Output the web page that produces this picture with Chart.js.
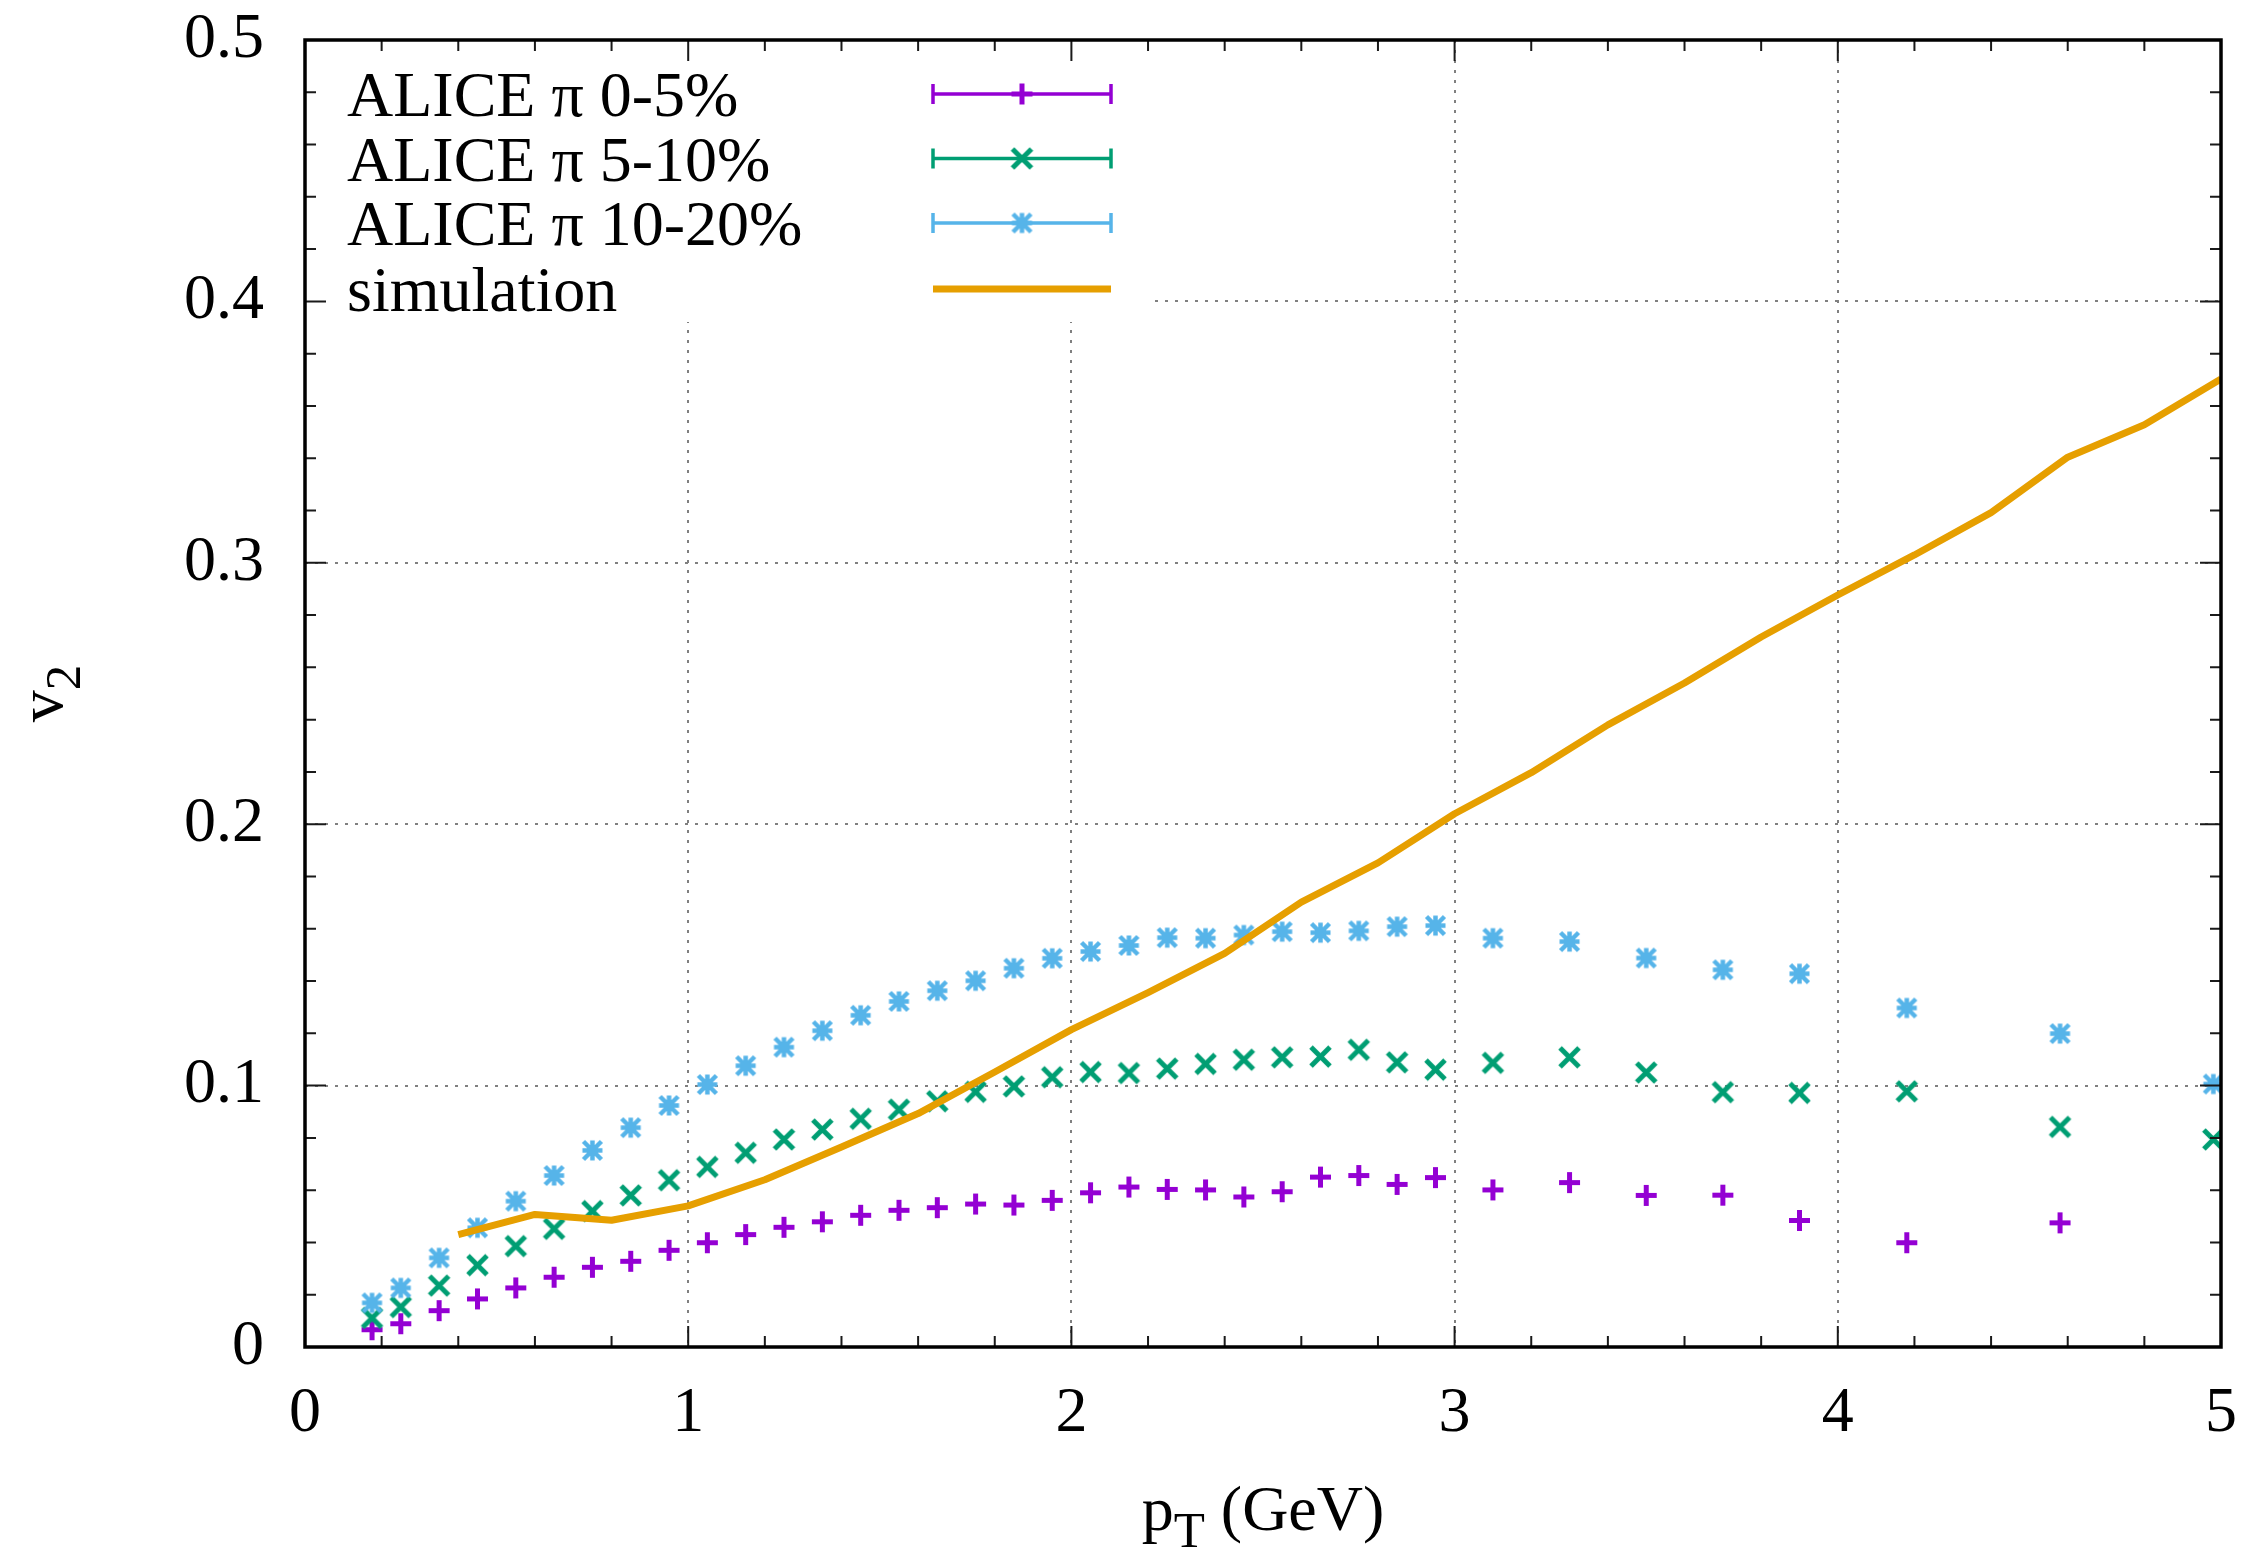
<!DOCTYPE html>
<html>
<head>
<meta charset="utf-8">
<script src="https://cdn.jsdelivr.net/npm/chart.js@4.4.1/dist/chart.umd.min.js"></script>
<style>
  html, body { margin: 0; padding: 0; background: #ffffff; }
  canvas { display: block; }
</style>
</head>
<body>
<canvas id="v2chart" width="2247" height="1552"></canvas>
<script>
// ---- data -------------------------------------------------------------
const xTickLabels = ['0', '1', '2', '3', '4', '5'];
const yTickLabels = ['0', '0.1', '0.2', '0.3', '0.4', '0.5'];
const seriesNames = ['ALICE \u03c0 0-5%', 'ALICE \u03c0 5-10%', 'ALICE \u03c0 10-20%', 'simulation'];

// pT bin centres of the measured points (GeV)
const ptAlice = [0.175, 0.25, 0.35, 0.45, 0.55, 0.65, 0.75, 0.85, 0.95, 1.05,
                 1.15, 1.25, 1.35, 1.45, 1.55, 1.65, 1.75, 1.85, 1.95, 2.05,
                 2.15, 2.25, 2.35, 2.45, 2.55, 2.65, 2.75, 2.85, 2.95, 3.1,
                 3.3, 3.5, 3.7, 3.9, 4.18, 4.58, 4.98];

// v2, 0-5% centrality (no point in the last bin)
const v2Cent0to5 = [0.0066, 0.0089, 0.0139, 0.0184, 0.0226, 0.0267, 0.0305, 0.0328, 0.0370, 0.0399,
                    0.0430, 0.0458, 0.0479, 0.0504, 0.0523, 0.0533, 0.0547, 0.0543, 0.0561, 0.0590,
                    0.0612, 0.0603, 0.0601, 0.0574, 0.0594, 0.0650, 0.0656, 0.0622, 0.0648, 0.0601,
                    0.0629, 0.0580, 0.0581, 0.0484, 0.0399, 0.0475];

// v2, 5-10% centrality
const v2Cent5to10 = [0.0111, 0.0153, 0.0235, 0.0313, 0.0386, 0.0452, 0.0520, 0.0580, 0.0638, 0.0689,
                     0.0743, 0.0794, 0.0832, 0.0873, 0.0908, 0.0940, 0.0976, 0.0997, 0.1032, 0.1052,
                     0.1048, 0.1065, 0.1083, 0.1099, 0.1108, 0.1111, 0.1137, 0.1089, 0.1061, 0.1087,
                     0.1108, 0.1050, 0.0975, 0.0972, 0.0978, 0.0842, 0.0794];

// v2, 10-20% centrality
const v2Cent10to20 = [0.0169, 0.0226, 0.0341, 0.0456, 0.0558, 0.0656, 0.0752, 0.0839, 0.0924, 0.1004,
                      0.1076, 0.1147, 0.1210, 0.1269, 0.1322, 0.1363, 0.1401, 0.1449, 0.1487, 0.1513,
                      0.1536, 0.1566, 0.1564, 0.1576, 0.1589, 0.1585, 0.1592, 0.1608, 0.1612, 0.1564,
                      0.1551, 0.1488, 0.1443, 0.1428, 0.1297, 0.1199, 0.1006];

// simulation curve
const ptSim = [0.4, 0.6, 0.8, 1.0, 1.2, 1.4, 1.6, 1.8, 2.0, 2.2, 2.4, 2.6,
               2.8, 3.0, 3.2, 3.4, 3.6, 3.8, 4.0, 4.2, 4.4, 4.6, 4.8, 5.0];
const v2Sim = [0.0430, 0.0507, 0.0485, 0.0540, 0.0640, 0.0765, 0.0893, 0.1052, 0.1214, 0.1356, 0.1506, 0.1702,
               0.1852, 0.2040, 0.2197, 0.2380, 0.2540, 0.2716, 0.2877, 0.3030, 0.3192, 0.3404, 0.3528, 0.3703];

// ---- styling ----------------------------------------------------------
const SERIF = '"Liberation Serif", "DejaVu Serif", "Times New Roman", serif';
const FONT_PX = 64;
const SUB_PX = 51;
const colPurple = '#9400d3';
const colGreen = '#009e73';
const colBlue = '#56b4e9';
const colOrange = '#e69f00';

// gnuplot-like point symbols rendered into small canvases
function symbolPath(ctx, kind, cx, cy) {
  ctx.beginPath();
  if (kind === 'plus' || kind === 'star') {
    const s = kind === 'plus' ? 10.5 : 10;
    ctx.moveTo(cx - s, cy); ctx.lineTo(cx + s, cy);
    ctx.moveTo(cx, cy - s); ctx.lineTo(cx, cy + s);
  }
  if (kind === 'cross' || kind === 'star') {
    const s = kind === 'cross' ? 9.5 : 9;
    ctx.moveTo(cx - s, cy - s); ctx.lineTo(cx + s, cy + s);
    ctx.moveTo(cx - s, cy + s); ctx.lineTo(cx + s, cy - s);
  }
}
function symbolCanvas(kind, color, lw) {
  const c = document.createElement('canvas');
  c.width = 31; c.height = 31;
  const g = c.getContext('2d');
  g.strokeStyle = color;
  g.lineWidth = lw;
  g.lineCap = 'butt';
  symbolPath(g, kind, 15.5, 15.5);
  g.stroke();
  return c;
}
const symPlus = symbolCanvas('plus', colPurple, 5);
const symCross = symbolCanvas('cross', colGreen, 5);
const symStar = symbolCanvas('star', colBlue, 4.5);

function pairs(xs, ys) {
  return ys.map((y, i) => ({ x: xs[i], y: y }));
}

// ---- frame, tics, key and axis titles --------------------------------
const framePlugin = {
  id: 'gnuplotFrame',
  beforeDatasetsDraw(chart) {
    const ctx = chart.ctx;
    const a = chart.chartArea;
    ctx.save();
    // opaque key box
    ctx.fillStyle = '#ffffff';
    ctx.fillRect(a.left, a.top, 843, 282);

    const entryY = [a.top + 54, a.top + 118.5, a.top + 183, a.top + 249];
    const textX = a.left + 42;
    const lineX0 = a.left + 628;
    const lineX1 = a.left + 806;
    const midX = (lineX0 + lineX1) / 2;
    ctx.font = FONT_PX + 'px ' + SERIF;
    ctx.textAlign = 'left';
    ctx.textBaseline = 'alphabetic';
    const cols = [colPurple, colGreen, colBlue, colOrange];
    const syms = [symPlus, symCross, symStar, null];
    for (let i = 0; i < 4; i++) {
      const y = entryY[i];
      ctx.fillStyle = '#000000';
      ctx.fillText(seriesNames[i], textX, y + 22);
      ctx.strokeStyle = cols[i];
      if (syms[i]) {
        ctx.lineWidth = 3.5;
        ctx.beginPath();
        ctx.moveTo(lineX0, y); ctx.lineTo(lineX1, y);
        ctx.moveTo(lineX0, y - 10); ctx.lineTo(lineX0, y + 10);
        ctx.moveTo(lineX1, y - 10); ctx.lineTo(lineX1, y + 10);
        ctx.stroke();
        ctx.drawImage(syms[i], midX - 15.5, y - 15.5);
      } else {
        ctx.lineWidth = 7;
        ctx.beginPath();
        ctx.moveTo(lineX0, y); ctx.lineTo(lineX1, y);
        ctx.stroke();
      }
    }
    ctx.restore();
  },
  afterDatasetsDraw(chart) {
    const ctx = chart.ctx;
    const a = chart.chartArea;
    const xs = chart.scales.x;
    const ys = chart.scales.y;
    ctx.save();
    ctx.strokeStyle = '#1a1a1a';
    ctx.lineWidth = 2;
    ctx.beginPath();
    for (let k = 1; k < 25; k++) {
      const px = xs.getPixelForValue(k * 0.2);
      const len = (k % 5 === 0) ? 21 : 11;
      ctx.moveTo(px, a.bottom); ctx.lineTo(px, a.bottom - len);
      ctx.moveTo(px, a.top); ctx.lineTo(px, a.top + len);
    }
    for (let k = 1; k < 25; k++) {
      const py = ys.getPixelForValue(k * 0.02);
      const len = (k % 5 === 0) ? 21 : 11;
      ctx.moveTo(a.left, py); ctx.lineTo(a.left + len, py);
      ctx.moveTo(a.right, py); ctx.lineTo(a.right - len, py);
    }
    ctx.stroke();
    ctx.strokeStyle = '#000000';
    ctx.lineWidth = 3.5;
    ctx.strokeRect(a.left, a.top, a.right - a.left, a.bottom - a.top);
    ctx.restore();
  },
  afterDraw(chart) {
    const ctx = chart.ctx;
    const a = chart.chartArea;
    ctx.save();
    ctx.fillStyle = '#000000';
    ctx.textBaseline = 'alphabetic';
    ctx.textAlign = 'left';
    // x title: p_T (GeV)
    const big = FONT_PX + 'px ' + SERIF;
    const small = SUB_PX + 'px ' + SERIF;
    ctx.font = big;
    const wP = ctx.measureText('p').width;
    const wRest = ctx.measureText(' (GeV)').width;
    ctx.font = small;
    const wT = ctx.measureText('T').width;
    const total = wP + wT + wRest;
    let x = (a.left + a.right) / 2 - total / 2;
    const base = 1530;
    ctx.font = big; ctx.fillText('p', x, base); x += wP;
    ctx.font = small; ctx.fillText('T', x, base + 17); x += wT;
    ctx.font = big; ctx.fillText(' (GeV)', x, base);

    // y title: v_2, rotated
    ctx.translate(62, (a.top + a.bottom) / 2);
    ctx.rotate(-Math.PI / 2);
    ctx.font = big;
    const wv = ctx.measureText('v').width;
    ctx.font = small;
    const w2 = ctx.measureText('2').width;
    let lx = -(wv + w2) / 2;
    ctx.font = big; ctx.fillText('v', lx, 0); lx += wv;
    ctx.font = small; ctx.fillText('2', lx, 18);
    ctx.restore();
  }
};

const gridColour = (max) => (c) => {
  const v = c.tick ? c.tick.value : 0;
  return (v <= 1e-9 || v >= max - 1e-9) ? 'rgba(0,0,0,0)' : '#808080';
};

new Chart(document.getElementById('v2chart'), {
  type: 'scatter',
  data: {
    datasets: [
      {
        label: seriesNames[3], data: pairs(ptSim, v2Sim), showLine: true,
        borderColor: colOrange, borderWidth: 7, pointRadius: 0, tension: 0,
        borderJoinStyle: 'round', fill: false, order: 0
      },
      {
        label: seriesNames[2], data: pairs(ptAlice, v2Cent10to20), showLine: false,
        pointStyle: symStar, pointRadius: 10, order: 1
      },
      {
        label: seriesNames[1], data: pairs(ptAlice, v2Cent5to10), showLine: false,
        pointStyle: symCross, pointRadius: 10, order: 2
      },
      {
        label: seriesNames[0], data: pairs(ptAlice, v2Cent0to5), showLine: false,
        pointStyle: symPlus, pointRadius: 10, order: 3
      }
    ]
  },
  options: {
    responsive: false,
    animation: false,
    devicePixelRatio: 1,
    layout: { padding: { left: 0, top: 40, right: 26, bottom: 0 } },
    plugins: { legend: { display: false }, tooltip: { enabled: false }, title: { display: false } },
    scales: {
      x: {
        type: 'linear', position: 'bottom', min: 0, max: 5,
        ticks: {
          stepSize: 1, padding: 29, color: '#000000',
          font: { family: SERIF, size: FONT_PX, lineHeight: 1.2 },
          maxRotation: 0, autoSkip: false,
          callback: (v) => xTickLabels[Math.round(v)]
        },
        grid: { drawTicks: false, lineWidth: 2, color: gridColour(5) },
        border: { display: false, dash: [3, 7] },
        afterFit: (s) => { s.height = 205; s.paddingLeft = 0; s.paddingRight = 0; }
      },
      y: {
        type: 'linear', position: 'left', min: 0, max: 0.5,
        ticks: {
          stepSize: 0.1, padding: 41, color: '#000000',
          font: { family: SERIF, size: FONT_PX, lineHeight: 1.2 },
          autoSkip: false,
          callback: (v) => yTickLabels[Math.round(v * 10)]
        },
        grid: { drawTicks: false, lineWidth: 2, color: gridColour(0.5) },
        border: { display: false, dash: [3, 7] },
        afterFit: (s) => { s.width = 305; s.paddingTop = 0; s.paddingBottom = 0; }
      }
    }
  },
  plugins: [framePlugin]
});
</script>
</body>
</html>
